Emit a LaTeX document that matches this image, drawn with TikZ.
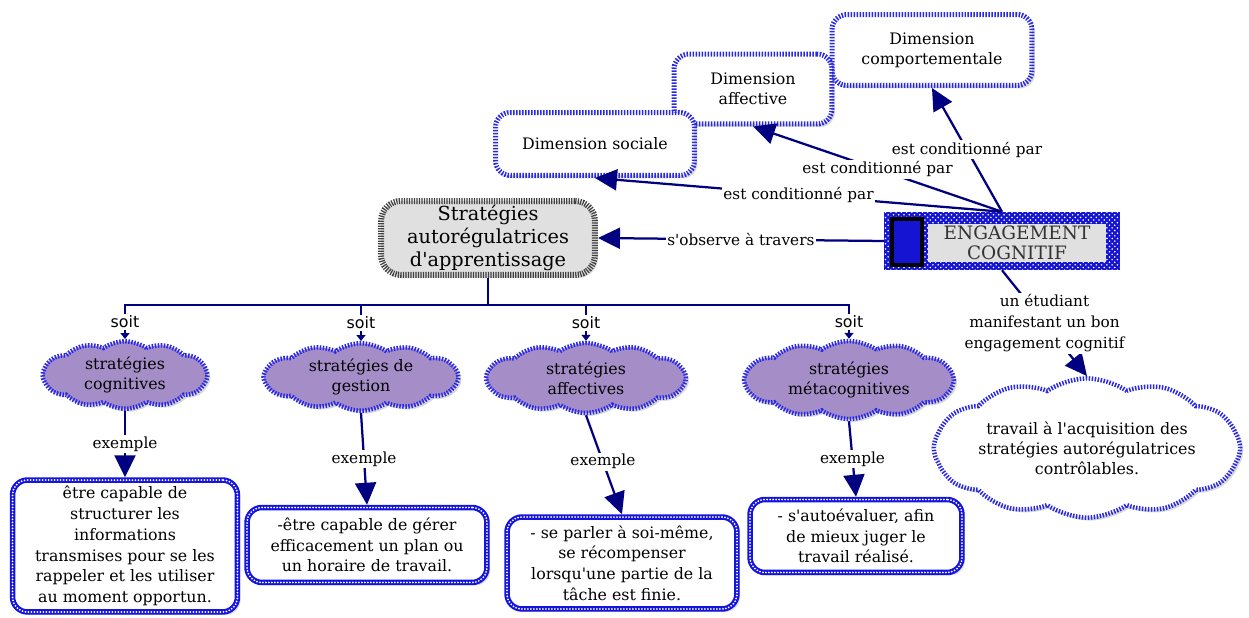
\documentclass[tikz,border=0pt]{standalone}
\usepackage{fontspec}
\setmainfont{DejaVu Serif}
\newfontfamily\labelsans{DejaVu Sans}
\usetikzlibrary{arrows.meta,shapes.symbols,shadows,patterns}
\begin{document}
\begin{tikzpicture}[x=0.02cm, y=-0.02cm,
    link/.style={draw=navyline, line width=0.45mm},
    bigtip/.style={-{Triangle[length=4.4mm,width=4.2mm]}},
    smalltip/.style={-{Triangle[length=1.2mm,width=1.8mm]}},
    linklabel/.style={fill=white, inner sep=1pt, align=center, font=\fontsize{8.7}{12}\selectfont},
    soitlabel/.style={fill=white, inner sep=1pt, font=\labelsans\fontsize{9}{11}\selectfont},
    softshadow/.style={drop shadow={shadow xshift=0.6mm, shadow yshift=-0.6mm, opacity=0.3}},
    dimbox/.style={rounded corners=3mm, fill=white, draw=hatchblue, line width=1mm,
      dash pattern=on 0.3mm off 0.3mm, align=center, inner sep=2pt,
      font=\fontsize{9}{11.3}\selectfont, softshadow},
    stratbox/.style={rounded corners=4mm, fill=black!12, draw=black!75, line width=1.2mm,
      dash pattern=on 0.25mm off 0.25mm, align=center, inner sep=2pt,
      font=\fontsize{11}{13}\selectfont, softshadow},
    engframe/.style={rectangle, fill=engblue, draw=engblue, line width=0.3mm,
      postaction={pattern=crosshatch dots, pattern color=white}},
    engtext/.style={rectangle, fill=black!12, inner sep=0pt, align=center, text=black!80,
      font=\fontsize{10.5}{11.5}\selectfont},
    engmark/.style={rectangle, fill=engblue, draw=black, line width=0.8mm},
    stratcloud/.style={cloud, cloud puffs=12, cloud puff arc=70, aspect=2.6, inner sep=0pt,
      fill=cloudpurple, draw=hatchblue, line width=0.9mm, dash pattern=on 0.3mm off 0.3mm,
      align=center, font=\fontsize{9}{11.3}\selectfont, softshadow},
    exbox/.style={rounded corners=3mm, fill=white, draw=dotblue, line width=1.1mm,
      postaction={draw=white, line width=0.4mm, line cap=round, dash pattern=on 0pt off 0.6mm},
      align=center, inner sep=2pt, font=\fontsize{9}{11.8}\selectfont, softshadow}]
    \definecolor{navyline}{RGB}{0,0,128}
    \definecolor{hatchblue}{RGB}{40,40,230}
    \definecolor{dotblue}{RGB}{20,20,220}
    \definecolor{engblue}{RGB}{20,20,210}
    \definecolor{cloudpurple}{RGB}{165,142,200}
    \def\q{\textquotesingle}
    \useasboundingbox (0,0) rectangle (1249,618);
    \node[dimbox, minimum width=4.0cm, minimum height=1.42cm] (dcomp) at (932,50) {Dimension\\comportementale};
    \node[dimbox, minimum width=3.16cm, minimum height=1.4cm] (daff) at (753,89) {Dimension\\affective};
    \node[dimbox, minimum width=3.98cm, minimum height=1.26cm] (dsoc) at (595,144) {Dimension sociale};
    \node[stratbox, minimum width=4.28cm, minimum height=1.48cm] (strat) at (488,238) {Stratégies\\autorégulatrices\\d\q apprentissage};
    \node[engframe, minimum width=4.7cm, minimum height=1.14cm] (eng) at (1002,241) {};
    \node[engtext, minimum width=3.58cm, minimum height=0.76cm] (engtxt) at (1017,243) {ENGAGEMENT\\COGNITIF};
    \node[engmark, minimum width=0.6cm, minimum height=0.92cm] (engsq) at (907,242) {};
    \node[stratcloud, minimum width=3.3cm, minimum height=1.35cm] (cog) at (125,375) {stratégies\\cognitives};
    \node[stratcloud, minimum width=3.9cm, minimum height=1.35cm] (ges) at (361,377) {stratégies de\\gestion};
    \node[stratcloud, minimum width=4.0cm, minimum height=1.4cm] (aff) at (586,378) {stratégies\\affectives};
    \node[stratcloud, minimum width=4.2cm, minimum height=1.45cm] (meta) at (849,380) {stratégies\\métacognitives};
    \node[stratcloud, fill=white, minimum width=6.1cm, minimum height=1.95cm] (goal) at (1087,448) {travail à l\q acquisition des\\stratégies autorégulatrices\\contrôlables.};
    \node[exbox, minimum width=4.5cm, minimum height=2.64cm] (excog) at (125,546) {être capable de\\structurer les\\informations\\transmises pour se les\\rappeler et les utiliser\\au moment opportun.};
    \node[exbox, minimum width=4.8cm, minimum height=1.5cm] (exges) at (367,545) {-être capable de gérer\\efficacement un plan ou\\un horaire de travail.};
    \node[exbox, minimum width=4.6cm, minimum height=1.84cm] (exaff) at (622,563) {- se parler à soi-même,\\se récompenser\\lorsqu\q une partie de la\\tâche est finie.};
    \node[exbox, minimum width=4.24cm, minimum height=1.46cm] (exmeta) at (856,536) {- s\q autoévaluer, afin\\de mieux juger le\\travail réalisé.};
    \draw[link, bigtip] (eng.north) -- node[linklabel] {est conditionné par} (dsoc.south);
    \draw[link, bigtip] (eng.north) -- node[linklabel] {est conditionné par} (daff.south);
    \draw[link, bigtip] (eng.north) -- node[linklabel] {est conditionné par} (dcomp.south);
    \draw[link, bigtip] (eng.west) -- node[linklabel] {s\q observe à travers} (strat.east);
    \draw[link, bigtip] (eng.south) -- node[linklabel, pos=0.5] {un étudiant\\manifestant un bon\\engagement cognitif} (goal.north);
    \coordinate (bus) at (488,305);
    \draw[link] (strat.south) -- (bus);
    \draw[link, line cap=rect] (cog.north |- bus) -- (meta.north |- bus);
    \foreach \c in {cog,ges,aff,meta}
      \draw[link, smalltip] (\c.north |- bus) -- node[soitlabel] {soit} (\c.north);
    \draw[link, bigtip] (cog.south) -- node[linklabel] {exemple} (excog.north);
    \draw[link, bigtip] (ges.south) -- node[linklabel] {exemple} (exges.north);
    \draw[link, bigtip] (aff.south) -- node[linklabel, pos=0.47] {exemple} (exaff.north);
    \draw[link, bigtip] (meta.south) -- node[linklabel] {exemple} (exmeta.north);
\end{tikzpicture}
\end{document}
